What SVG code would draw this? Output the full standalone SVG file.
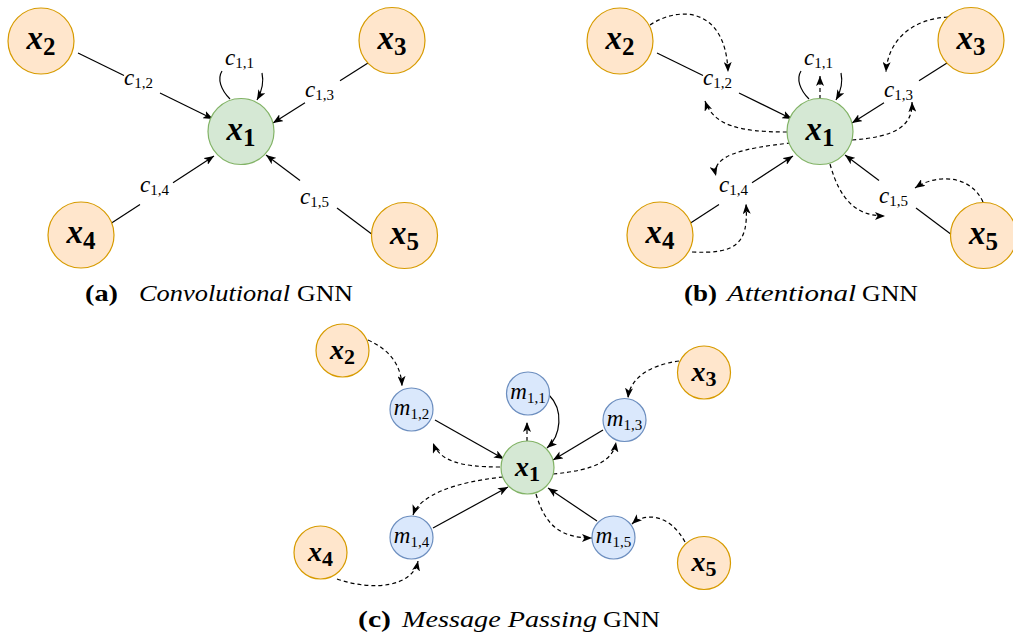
<svg xmlns="http://www.w3.org/2000/svg" width="1013" height="641" viewBox="0 0 1013 641">
<style>
  text { font-family: 'Liberation Serif', serif; fill: #000; }
  .xn { fill: #ffe6cc; stroke: #d79b00; stroke-width: 1.2; }
  .cn { fill: #d5e8d4; stroke: #82b366; stroke-width: 1.2; }
  .mn { fill: #dae8fc; stroke: #6c8ebf; stroke-width: 1.2; }
  .e { fill: none; stroke: #000; stroke-width: 1.2; }
  .d { stroke-dasharray: 4 3; }
  .xl { font-weight: bold; text-anchor: middle; }
  .xl .v { font-style: italic; }
  .big { font-size: 33px; }
  .big .s { font-size: 25px; }
  .sm { font-size: 28px; }
  .sm .s { font-size: 22px; }
  .lab .v { font-style: italic; font-size: 23px; }
  .lab .s { font-size: 15px; }
  .ml { text-anchor: middle; }
  .ml .v { font-style: italic; font-size: 23px; }
  .ml .s { font-size: 15px; }
  .cap { font-size: 23px; }
</style>
<defs>
  <!-- filled classic arrowhead with a notched back -->
  <marker id="ah" viewBox="0 0 10 8" refX="10" refY="4" markerWidth="10" markerHeight="8" orient="auto" markerUnits="userSpaceOnUse">
    <path d="M0,0 L10,4 L0,8 L2.5,4 z" fill="#000" stroke="none"/>
  </marker>
</defs>
<g font-family="Liberation Serif, serif">

<!-- (a) Convolutional GNN -->
<g id="a-edges">
  <path class="e" d="M78,53 L124,75.5"/>
  <path class="e" d="M160,93 L213,119" marker-end="url(#ah)"/>
  <path class="e" d="M368,63 L340,80.7"/>
  <path class="e" d="M305,102.8 L273,123" marker-end="url(#ah)"/>
  <path class="e" d="M110,224 L140,204.4"/>
  <path class="e" d="M173,182.8 L214,156" marker-end="url(#ah)"/>
  <path class="e" d="M373,235 L337,208.1"/>
  <path class="e" d="M300,180.4 L266,155" marker-end="url(#ah)"/>
  <path class="e" d="M230,99 C221,90 217,79 222,71"/>
  <path class="e" d="M262,73 C264,82 262,91 257,100" marker-end="url(#ah)"/>
</g>
<g id="a-labels">
  <text class="lab" x="124" y="85"><tspan class="v">c</tspan><tspan class="s" dy="3">1,2</tspan></text>
  <text class="lab" x="225" y="65"><tspan class="v">c</tspan><tspan class="s" dy="3">1,1</tspan></text>
  <text class="lab" x="305" y="97"><tspan class="v">c</tspan><tspan class="s" dy="3">1,3</tspan></text>
  <text class="lab" x="140" y="192"><tspan class="v">c</tspan><tspan class="s" dy="3">1,4</tspan></text>
  <text class="lab" x="300" y="204"><tspan class="v">c</tspan><tspan class="s" dy="3">1,5</tspan></text>
</g>
<g id="a-x1"><circle class="cn" cx="241" cy="131.5" r="33"/><text class="xl big" x="241" y="140"><tspan class="v">x</tspan><tspan class="s" dy="6">1</tspan></text></g>
<g id="a-x2"><circle class="xn" cx="41" cy="41" r="33"/><text class="xl big" x="41" y="49"><tspan class="v">x</tspan><tspan class="s" dy="6">2</tspan></text></g>
<g id="a-x3"><circle class="xn" cx="392" cy="40.5" r="33"/><text class="xl big" x="392" y="48.5"><tspan class="v">x</tspan><tspan class="s" dy="6">3</tspan></text></g>
<g id="a-x4"><circle class="xn" cx="81" cy="235" r="33"/><text class="xl big" x="81" y="243"><tspan class="v">x</tspan><tspan class="s" dy="6">4</tspan></text></g>
<g id="a-x5"><circle class="xn" cx="404.5" cy="235.5" r="33"/><text class="xl big" x="404.5" y="243.5"><tspan class="v">x</tspan><tspan class="s" dy="6">5</tspan></text></g>
<text class="cap" y="301"><tspan x="85" font-weight="bold" textLength="33" lengthAdjust="spacingAndGlyphs">(a)</tspan><tspan x="139" font-style="italic" textLength="151" lengthAdjust="spacingAndGlyphs">Convolutional</tspan><tspan x="297" textLength="56" lengthAdjust="spacingAndGlyphs">GNN</tspan></text>

<!-- (b) Attentional GNN -->
<g id="b-edges">
  <path class="e" d="M657,53 L703,75.5"/>
  <path class="e" d="M739,93 L792,119" marker-end="url(#ah)"/>
  <path class="e" d="M947,63 L919,80.7"/>
  <path class="e" d="M884,102.8 L852,123" marker-end="url(#ah)"/>
  <path class="e" d="M689,224 L719,204.4"/>
  <path class="e" d="M752,182.8 L793,156" marker-end="url(#ah)"/>
  <path class="e" d="M952,235 L916,208.1"/>
  <path class="e" d="M879,180.4 L845,155" marker-end="url(#ah)"/>
  <path class="e" d="M809,99 C800,90 796,79 801,71"/>
  <path class="e" d="M841,73 C843,82 841,91 836,100" marker-end="url(#ah)"/>
  <path class="e d" d="M820,99 L820,76" marker-end="url(#ah)"/>
  <path class="e d" d="M650,25 C680,5 726,8 728,72" marker-end="url(#ah)"/>
  <path class="e d" d="M787,132 C740,132 714,126 705,101" marker-end="url(#ah)"/>
  <path class="e d" d="M948,17 C912,19 888,40 886,72" marker-end="url(#ah)"/>
  <path class="e d" d="M852,140 C895,137 913,126 912,102" marker-end="url(#ah)"/>
  <path class="e d" d="M791,143 C742,148 711,156 716,176" marker-end="url(#ah)"/>
  <path class="e d" d="M692,252 C735,254 749,245 746,204" marker-end="url(#ah)"/>
  <path class="e d" d="M830,164 C840,200 856,216 885,216" marker-end="url(#ah)"/>
  <path class="e d" d="M983,202 C970,174 936,174 915,188" marker-end="url(#ah)"/>
</g>
<g id="b-labels">
  <text class="lab" x="703" y="85"><tspan class="v">c</tspan><tspan class="s" dy="3">1,2</tspan></text>
  <text class="lab" x="804" y="65"><tspan class="v">c</tspan><tspan class="s" dy="3">1,1</tspan></text>
  <text class="lab" x="884" y="97"><tspan class="v">c</tspan><tspan class="s" dy="3">1,3</tspan></text>
  <text class="lab" x="719" y="192"><tspan class="v">c</tspan><tspan class="s" dy="3">1,4</tspan></text>
  <text class="lab" x="879" y="203"><tspan class="v">c</tspan><tspan class="s" dy="3">1,5</tspan></text>
</g>
<g id="b-x1"><circle class="cn" cx="820" cy="131.5" r="33"/><text class="xl big" x="820" y="140"><tspan class="v">x</tspan><tspan class="s" dy="6">1</tspan></text></g>
<g id="b-x2"><circle class="xn" cx="620" cy="41" r="33"/><text class="xl big" x="620" y="49"><tspan class="v">x</tspan><tspan class="s" dy="6">2</tspan></text></g>
<g id="b-x3"><circle class="xn" cx="971" cy="40.5" r="33"/><text class="xl big" x="971" y="48.5"><tspan class="v">x</tspan><tspan class="s" dy="6">3</tspan></text></g>
<g id="b-x4"><circle class="xn" cx="660" cy="235" r="33"/><text class="xl big" x="660" y="243"><tspan class="v">x</tspan><tspan class="s" dy="6">4</tspan></text></g>
<g id="b-x5"><circle class="xn" cx="983.5" cy="235.5" r="33"/><text class="xl big" x="983.5" y="243.5"><tspan class="v">x</tspan><tspan class="s" dy="6">5</tspan></text></g>
<text class="cap" y="301"><tspan x="684" font-weight="bold" textLength="33" lengthAdjust="spacingAndGlyphs">(b)</tspan><tspan x="727" font-style="italic" textLength="129" lengthAdjust="spacingAndGlyphs">Attentional</tspan><tspan x="862" textLength="56" lengthAdjust="spacingAndGlyphs">GNN</tspan></text>

<!-- (c) Message Passing GNN -->
<g id="c-edges">
  <path class="e" d="M435,420 L504,459" marker-end="url(#ah)"/>
  <path class="e" d="M549,395 C564,410 561,436 547,448" marker-end="url(#ah)"/>
  <path class="e" d="M603,430 L553,460" marker-end="url(#ah)"/>
  <path class="e" d="M433,528 L508,487" marker-end="url(#ah)"/>
  <path class="e" d="M597,521 L548,488" marker-end="url(#ah)"/>
  <path class="e d" d="M368,340 C390,350 401,365 402,386" marker-end="url(#ah)"/>
  <path class="e d" d="M527,441 L527,422" marker-end="url(#ah)"/>
  <path class="e d" d="M500,467 C460,467 440,461 433,443" marker-end="url(#ah)"/>
  <path class="e d" d="M679,361 C650,365 630,378 628,398" marker-end="url(#ah)"/>
  <path class="e d" d="M553,474 C595,470 613,461 616,442" marker-end="url(#ah)"/>
  <path class="e d" d="M503,477 C455,482 420,495 413,515" marker-end="url(#ah)"/>
  <path class="e d" d="M337,579 C375,592 413,586 418,561" marker-end="url(#ah)"/>
  <path class="e d" d="M536,494 C545,525 560,538 592,538" marker-end="url(#ah)"/>
  <path class="e d" d="M685,542 C670,514 645,512 632,524" marker-end="url(#ah)"/>
</g>
<g id="c-x1"><circle class="cn" cx="527.5" cy="467.5" r="26.5"/><text class="xl sm" x="527.5" y="475.5"><tspan class="v">x</tspan><tspan class="s" dy="5">1</tspan></text></g>
<g id="c-x2"><circle class="xn" cx="342.5" cy="350.5" r="26.5"/><text class="xl sm" x="342.5" y="358.5"><tspan class="v">x</tspan><tspan class="s" dy="5">2</tspan></text></g>
<g id="c-x3"><circle class="xn" cx="704" cy="372.5" r="26.5"/><text class="xl sm" x="704" y="380.5"><tspan class="v">x</tspan><tspan class="s" dy="5">3</tspan></text></g>
<g id="c-x4"><circle class="xn" cx="320.5" cy="552.5" r="26.5"/><text class="xl sm" x="320.5" y="560.5"><tspan class="v">x</tspan><tspan class="s" dy="5">4</tspan></text></g>
<g id="c-x5"><circle class="xn" cx="704" cy="563" r="26.5"/><text class="xl sm" x="704" y="571"><tspan class="v">x</tspan><tspan class="s" dy="5">5</tspan></text></g>
<g id="c-m11"><circle class="mn" cx="528" cy="393.5" r="21.5"/><text class="ml" x="528" y="399"><tspan class="v">m</tspan><tspan class="s" dy="4">1,1</tspan></text></g>
<g id="c-m12"><circle class="mn" cx="411.5" cy="409.5" r="21.5"/><text class="ml" x="411.5" y="415"><tspan class="v">m</tspan><tspan class="s" dy="4">1,2</tspan></text></g>
<g id="c-m13"><circle class="mn" cx="624.5" cy="420" r="21.5"/><text class="ml" x="624.5" y="425.5"><tspan class="v">m</tspan><tspan class="s" dy="4">1,3</tspan></text></g>
<g id="c-m14"><circle class="mn" cx="411.5" cy="537.5" r="21.5"/><text class="ml" x="411.5" y="543"><tspan class="v">m</tspan><tspan class="s" dy="4">1,4</tspan></text></g>
<g id="c-m15"><circle class="mn" cx="613.5" cy="537.5" r="21.5"/><text class="ml" x="613.5" y="543"><tspan class="v">m</tspan><tspan class="s" dy="4">1,5</tspan></text></g>
<text class="cap" y="627"><tspan x="358" font-weight="bold" textLength="33" lengthAdjust="spacingAndGlyphs">(c)</tspan><tspan x="402" font-style="italic" textLength="195" lengthAdjust="spacingAndGlyphs">Message Passing</tspan><tspan x="603" textLength="57" lengthAdjust="spacingAndGlyphs">GNN</tspan></text>
</g>
</svg>
